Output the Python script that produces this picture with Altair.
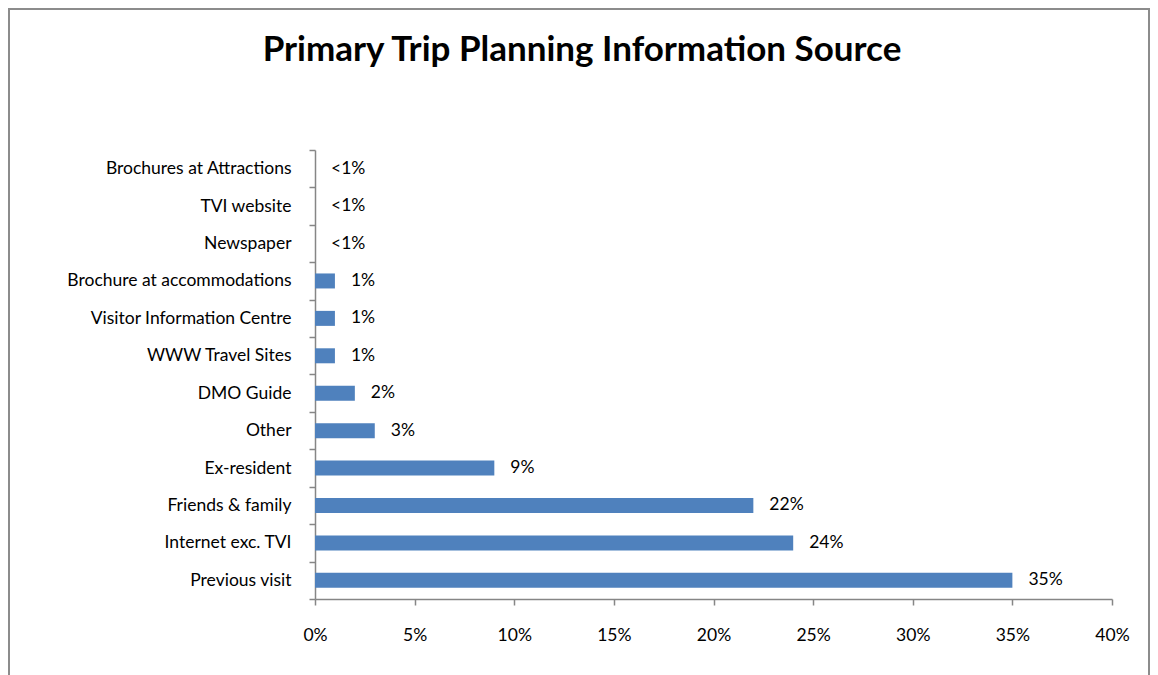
import altair as alt
import pandas as pd

categories = [
    "Brochures at Attractions",
    "TVI website",
    "Newspaper",
    "Brochure at accommodations",
    "Visitor Information Centre",
    "WWW Travel Sites",
    "DMO Guide",
    "Other",
    "Ex-resident",
    "Friends & family",
    "Internet exc. TVI",
    "Previous  visit",
]
values = [0.0, 0.0, 0.0, 0.01, 0.01, 0.01, 0.02, 0.03, 0.09, 0.22, 0.24, 0.35]
labels = ["<1%", "<1%", "<1%", "1%", "1%", "1%", "2%", "3%", "9%", "22%", "24%", "35%"]
x_ticks = [0, 0.05, 0.10, 0.15, 0.20, 0.25, 0.30, 0.35, 0.40]
title_text = "Primary Trip Planning Information Source"

df = pd.DataFrame({"source": categories, "share": values, "label": labels})

FONT = "Lato"
AXIS_COLOR = "#868686"
FS = 17.5

y_enc = alt.Y(
    "source:N",
    sort=categories,
    scale=alt.Scale(paddingInner=0, paddingOuter=0),
    axis=alt.Axis(
        title=None,
        tickBand="extent",
        tickSize=6,
        labelPadding=18,
        labelFont=FONT,
        labelFontSize=FS,
        labelColor="#000000",
        domainColor=AXIS_COLOR,
        tickColor=AXIS_COLOR,
        domainWidth=1.5,
        tickWidth=1.5,
        labelLimit=400,
    ),
)
x_enc = alt.X(
    "share:Q",
    scale=alt.Scale(domain=[0, 0.4], nice=False),
    axis=alt.Axis(
        title=None,
        values=x_ticks,
        format=".0%",
        tickSize=6,
        labelPadding=21,
        labelFlush=False,
        labelFont=FONT,
        labelFontSize=FS,
        labelColor="#000000",
        domainColor=AXIS_COLOR,
        tickColor=AXIS_COLOR,
        domainWidth=1.5,
        tickWidth=1.5,
        grid=False,
    ),
)

bars = alt.Chart(df).mark_bar(color="#4F81BD", size=15).encode(x=x_enc, y=y_enc)

texts = alt.Chart(df).mark_text(
    align="left", baseline="middle", dx=16, font=FONT, fontSize=FS, color="#000000"
).encode(x="share:Q", y=alt.Y("source:N", sort=categories), text="label:N")

title = alt.Chart(alt.Data(values=[{"t": title_text}])).mark_text(
    font=FONT, fontSize=35, fontWeight="bold", color="#000000",
    align="center", baseline="alphabetic"
).encode(x=alt.value(267), y=alt.value(-89), text="t:N")

border = alt.Chart(alt.Data(values=[{}])).mark_rect(
    fillOpacity=0, stroke="#8c8c8c", strokeWidth=2
).encode(
    x=alt.value(-306), x2=alt.value(834), y=alt.value(-141), y2=alt.value(700)
)

chart = alt.layer(bars, texts, title, border).properties(
    width=797,
    height=449,
    autosize=alt.AutoSizeParams(type="none"),
    padding={"left": 307, "top": 142, "right": 38, "bottom": 76},
).configure(background="white", view=alt.ViewConfig(stroke=None))

chart.save("out.html", embed_options={"renderer": "svg", "actions": False})
